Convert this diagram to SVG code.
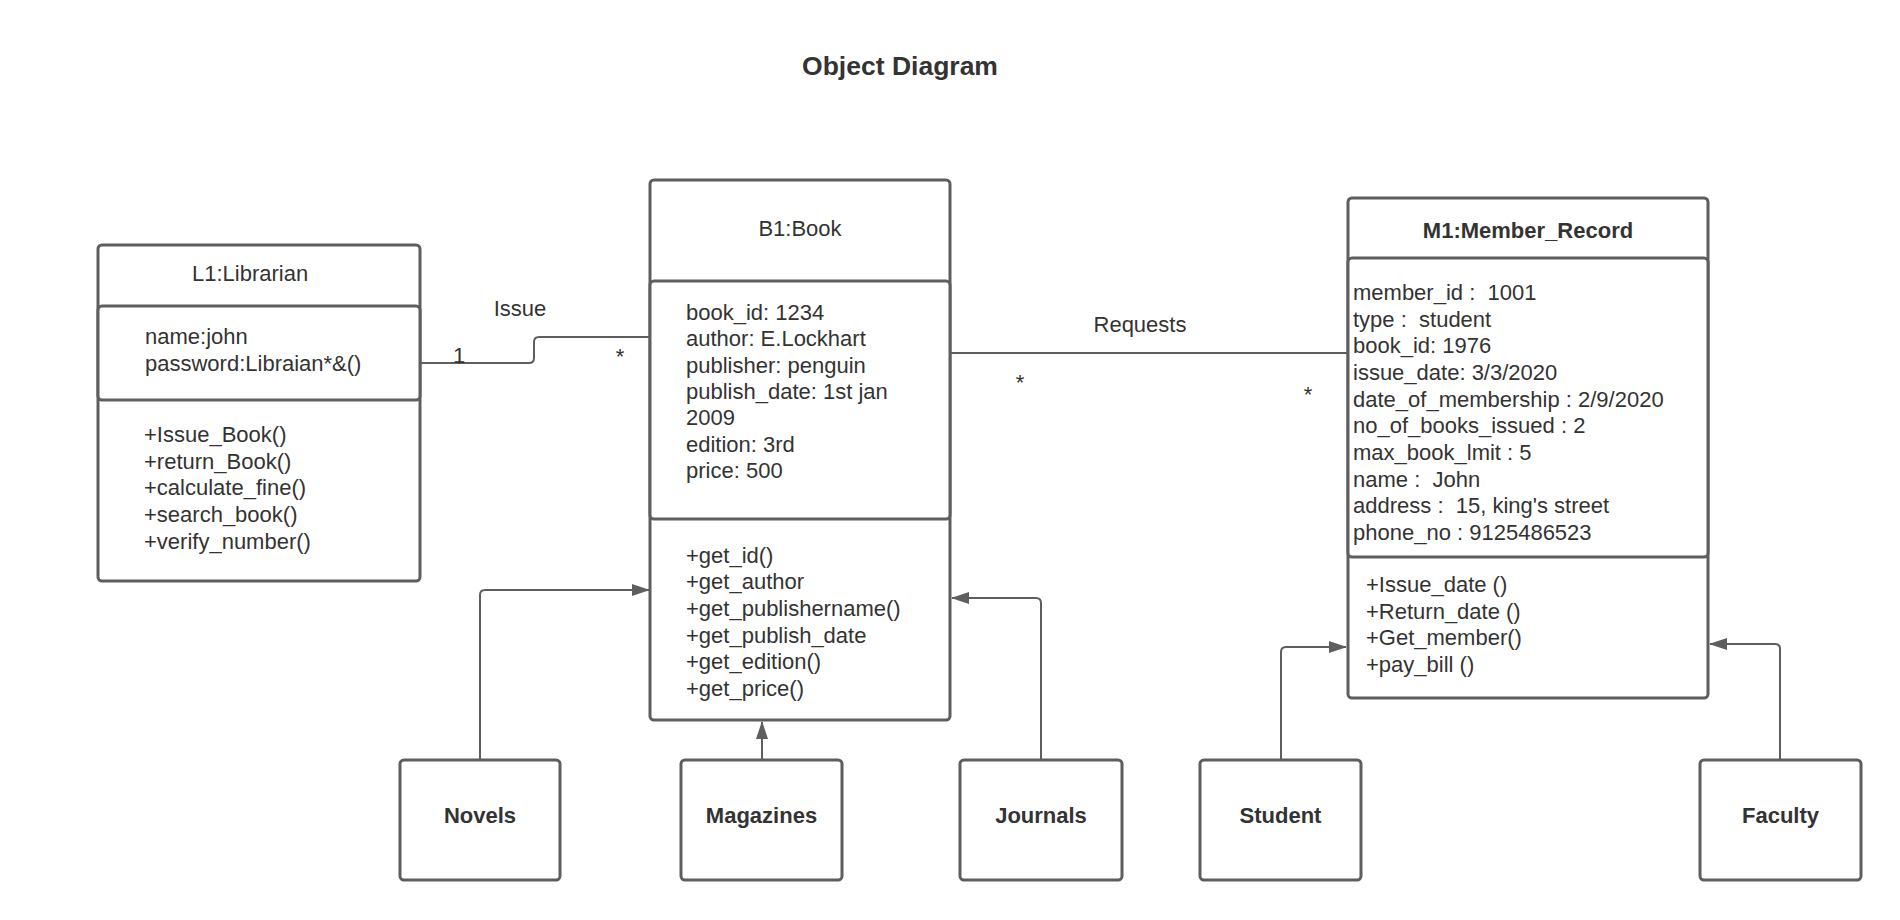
<svg xmlns="http://www.w3.org/2000/svg" width="1900" height="920" viewBox="0 0 1900 920" xml:space="preserve">
<style>
.box{fill:#ffffff;stroke:#5e5e5e;stroke-width:3}
text{white-space:pre}
.t{font-family:"Liberation Sans",Arial,sans-serif;font-size:22px;fill:#333333}
.b{font-family:"Liberation Sans",Arial,sans-serif;font-size:22px;font-weight:bold;fill:#333333}
.ttl{font-family:"Liberation Sans",Arial,sans-serif;font-size:26.5px;font-weight:bold;fill:#333333}
.c{fill:none;stroke:#5e5e5e;stroke-width:2}
</style>
<defs>
<marker id="arr" markerUnits="userSpaceOnUse" markerWidth="18" markerHeight="12" refX="17" refY="6" orient="auto">
<path d="M0,0 L18,6 L0,12 z" fill="#5e5e5e"/>
</marker>
</defs>
<rect width="1900" height="920" fill="#ffffff"/>
<text class="ttl" x="900" y="75" text-anchor="middle">Object Diagram</text>
<g id="librarian">
<rect class="box" x="98" y="245" width="322" height="336" rx="4"/>
<rect class="box" x="98" y="306" width="322" height="94" rx="4"/>
<text class="t" x="192" y="281">L1:Librarian</text>
<text class="t" x="145" y="344">name:john</text>
<text class="t" x="145" y="371">password:Libraian*&amp;()</text>
<text class="t" x="144" y="442">+Issue_Book()</text>
<text class="t" x="144" y="468.7">+return_Book()</text>
<text class="t" x="144" y="495.3">+calculate_fine()</text>
<text class="t" x="144" y="522">+search_book()</text>
<text class="t" x="144" y="548.7">+verify_number()</text>
</g>
<g id="book">
<rect class="box" x="650" y="180" width="300" height="540" rx="4"/>
<rect class="box" x="650" y="281" width="300" height="238" rx="4"/>
<text class="t" x="800" y="236" text-anchor="middle">B1:Book</text>
<text class="t" x="686" y="320">book_id: 1234</text>
<text class="t" x="686" y="346.3">author: E.Lockhart</text>
<text class="t" x="686" y="372.6">publisher: penguin</text>
<text class="t" x="686" y="399">publish_date: 1st jan</text>
<text class="t" x="686" y="425.3">2009</text>
<text class="t" x="686" y="451.6">edition: 3rd</text>
<text class="t" x="686" y="478">price: 500</text>
<text class="t" x="686" y="562.5">+get_id()</text>
<text class="t" x="686" y="589.2">+get_author</text>
<text class="t" x="686" y="615.9">+get_publishername()</text>
<text class="t" x="686" y="642.5">+get_publish_date</text>
<text class="t" x="686" y="669.2">+get_edition()</text>
<text class="t" x="686" y="695.9">+get_price()</text>
</g>
<g id="member">
<rect class="box" x="1348" y="198" width="360" height="500" rx="4"/>
<rect class="box" x="1348" y="258" width="360" height="299" rx="4"/>
<text class="b" x="1528" y="238" text-anchor="middle">M1:Member_Record</text>
<text class="t" x="1353" y="300">member_id :  1001</text>
<text class="t" x="1353" y="326.7">type :  student</text>
<text class="t" x="1353" y="353.3">book_id: 1976</text>
<text class="t" x="1353" y="380">issue_date: 3/3/2020</text>
<text class="t" x="1353" y="406.7">date_of_membership : 2/9/2020</text>
<text class="t" x="1353" y="433.3">no_of_books_issued : 2</text>
<text class="t" x="1353" y="460">max_book_lmit : 5</text>
<text class="t" x="1353" y="486.7">name :  John</text>
<text class="t" x="1353" y="513.3">address :  15, king's street</text>
<text class="t" x="1353" y="540">phone_no : 9125486523</text>
<text class="t" x="1366" y="592">+Issue_date ()</text>
<text class="t" x="1366" y="618.7">+Return_date ()</text>
<text class="t" x="1366" y="645.3">+Get_member()</text>
<text class="t" x="1366" y="672">+pay_bill ()</text>
</g>
<g id="novels">
<rect class="box" x="400" y="760" width="160" height="120" rx="4"/>
<text class="b" x="480" y="823" text-anchor="middle">Novels</text>
</g>
<g id="magazines">
<rect class="box" x="681" y="760" width="161" height="120" rx="4"/>
<text class="b" x="761.5" y="823" text-anchor="middle">Magazines</text>
</g>
<g id="journals">
<rect class="box" x="960" y="760" width="162" height="120" rx="4"/>
<text class="b" x="1041" y="823" text-anchor="middle">Journals</text>
</g>
<g id="student">
<rect class="box" x="1200" y="760" width="161" height="120" rx="4"/>
<text class="b" x="1280.5" y="823" text-anchor="middle">Student</text>
</g>
<g id="faculty">
<rect class="box" x="1700" y="760" width="161" height="120" rx="4"/>
<text class="b" x="1780.5" y="823" text-anchor="middle">Faculty</text>
</g>
<g id="connectors">
<path class="c" d="M420,363 H529 Q534,363 534,358 V342 Q534,337 539,337 H650"/>
<text class="t" x="520" y="316" text-anchor="middle">Issue</text>
<text class="t" x="459" y="363" text-anchor="middle">1</text>
<text class="t" x="620" y="364" text-anchor="middle">*</text>
<path class="c" d="M950,353 H1348"/>
<text class="t" x="1140" y="332" text-anchor="middle">Requests</text>
<text class="t" x="1020" y="390" text-anchor="middle">*</text>
<text class="t" x="1308" y="402" text-anchor="middle">*</text>
<path class="c" d="M480,760 V595 Q480,590 485,590 H649" marker-end="url(#arr)"/>
<path class="c" d="M762,760 V722" marker-end="url(#arr)"/>
<path class="c" d="M1041,760 V603 Q1041,598 1036,598 H952" marker-end="url(#arr)"/>
<path class="c" d="M1281,760 V652 Q1281,647 1286,647 H1346" marker-end="url(#arr)"/>
<path class="c" d="M1780,760 V649 Q1780,644 1775,644 H1710" marker-end="url(#arr)"/>
</g>
</svg>
